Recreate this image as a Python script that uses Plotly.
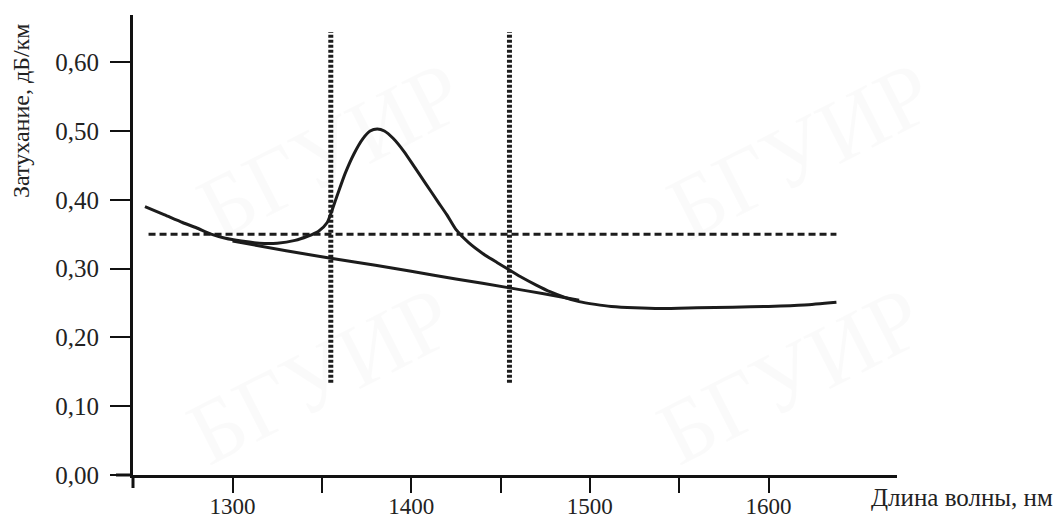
import plotly.graph_objects as go

# Attenuation curve with water peak (nm, dB/km)
wl_main = [1251, 1262, 1272, 1280, 1288, 1296, 1305, 1315, 1325, 1335, 1342, 1348,
           1353, 1358, 1363, 1368, 1373, 1377, 1381, 1385, 1390, 1396, 1402, 1408,
           1415, 1420, 1425, 1432, 1440, 1448, 1455, 1462, 1470, 1478, 1486, 1494,
           1503, 1512, 1525, 1540, 1560, 1580, 1600, 1620, 1638]
att_main = [0.390, 0.378, 0.367, 0.359, 0.350, 0.344, 0.340, 0.337, 0.337, 0.341, 0.347, 0.354,
            0.367, 0.402, 0.438, 0.467, 0.489, 0.500, 0.503, 0.500, 0.489, 0.470, 0.447, 0.424,
            0.397, 0.378, 0.357, 0.338, 0.322, 0.309, 0.298, 0.287, 0.276, 0.266, 0.258, 0.252,
            0.248, 0.245, 0.243, 0.242, 0.243, 0.244, 0.245, 0.247, 0.251]

# Attenuation without the water peak (low-water-peak fibre)
wl_base = [1300, 1330, 1355, 1380, 1400, 1425, 1455, 1475, 1494]
att_base = [0.340, 0.326, 0.315, 0.305, 0.296, 0.285, 0.272, 0.263, 0.254]

# Reference level and E-band borders
level_x = [1253, 1638]
level_y = [0.35, 0.35]
band_edges = [1355, 1455]
band_y = [0.134, 0.644]

x_ticks = [1300, 1350, 1400, 1450, 1500, 1550, 1600]
x_ticktext = ["1300", "", "1400", "", "1500", "", "1600"]
y_ticks = [0.0, 0.1, 0.2, 0.3, 0.4, 0.5, 0.6]
y_ticktext = ["0,00", "0,10", "0,20", "0,30", "0,40", "0,50", "0,60"]

watermark = "БГУИР"
ink = "#1c1c1c"
serif = "Liberation Serif, Times New Roman, serif"

# plot-area geometry (page pixels of the reference)
PL, PR, PT, PB = 133, 897, 15, 475
PW, PH = PR - PL, PB - PT
OFF = 8  # page offset of the figure div


def px2paper(px, py):
    return (px - PL) / PW, (PB - py) / PH


fig = go.Figure()

# very faint watermark
for (px, py) in [(330, 150), (800, 150), (320, 375), (790, 375)]:
    xp, yp = px2paper(px, py)
    fig.add_annotation(text=watermark, xref="paper", yref="paper", x=xp, y=yp,
                       xanchor="center", yanchor="middle", showarrow=False,
                       textangle=-27, font=dict(family=serif, size=90, color="rgba(0,0,0,0.02)"))

fig.add_trace(go.Scatter(x=level_x, y=level_y, mode="lines",
                         line=dict(color=ink, width=3, dash="7px,4px"), hoverinfo="skip"))
for xe in band_edges:
    fig.add_trace(go.Scatter(x=[xe, xe], y=band_y, mode="lines",
                             line=dict(color=ink, width=5, dash="3px,2px"), hoverinfo="skip"))
fig.add_trace(go.Scatter(x=wl_base, y=att_base, mode="lines",
                         line=dict(color=ink, width=3, shape="spline", smoothing=0.6)))
fig.add_trace(go.Scatter(x=wl_main, y=att_main, mode="lines",
                         line=dict(color=ink, width=3, shape="spline", smoothing=0.6)))

# axis extensions past the origin
fig.add_shape(type="line", xref="paper", yref="paper", x0=-17 / PW, x1=0, y0=0, y1=0,
              line=dict(color="#111", width=3))
fig.add_shape(type="line", xref="paper", yref="paper", x0=0, x1=0, y0=-13 / PH, y1=0,
              line=dict(color="#111", width=3))

xp, yp = px2paper(21, 111)
fig.add_annotation(text="Затухание, дБ/км", xref="paper", yref="paper", x=xp, y=yp,
                   xanchor="center", yanchor="middle", showarrow=False, textangle=-90,
                   font=dict(family=serif, size=24, color="#222"))
xp, yp = px2paper(962, 497)
fig.add_annotation(text="Длина волны, нм", xref="paper", yref="paper", x=xp, y=yp,
                   xanchor="center", yanchor="middle", showarrow=False,
                   font=dict(family=serif, size=25, color="#222"))

fig.update_layout(
    width=1061, height=518,
    margin=dict(l=PL - OFF, r=1061 - (PR - OFF), t=PT - OFF, b=518 - (PB - OFF), autoexpand=False),
    paper_bgcolor="white", plot_bgcolor="white",
    showlegend=False,
    xaxis=dict(range=[1244.3, 1671.9], tickvals=x_ticks, ticktext=x_ticktext,
               ticks="outside", ticklen=15, tickwidth=2, tickcolor="#111",
               showline=True, linewidth=3, linecolor="#111", automargin=False,
               showgrid=False, zeroline=False, ticklabelstandoff=-7,
               tickfont=dict(family=serif, size=23, color="#222")),
    yaxis=dict(range=[0, 0.6686], tickvals=y_ticks, ticktext=y_ticktext,
               ticks="outside", ticklen=20, tickwidth=2, tickcolor="#111",
               showline=True, linewidth=3, linecolor="#111", automargin=False,
               showgrid=False, zeroline=False, ticklabelstandoff=6,
               tickfont=dict(family=serif, size=25, color="#222")),
)

fig.write_html("out.html")
